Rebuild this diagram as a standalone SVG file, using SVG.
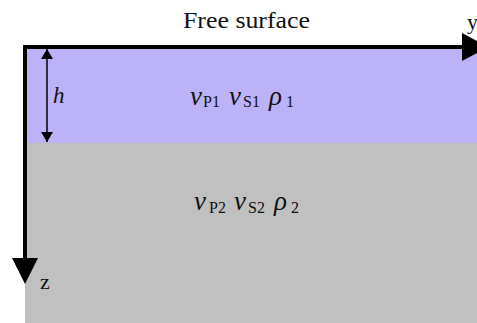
<svg xmlns="http://www.w3.org/2000/svg" width="477" height="323" viewBox="0 0 477 323">
<defs>
<marker id="ah" viewBox="0 0 10 12" refX="10" refY="6" markerWidth="10" markerHeight="12" markerUnits="userSpaceOnUse" orient="auto-start-reverse">
<path d="M0,0 L10,6 L0,12 Z" fill="#000"/>
</marker>
</defs>
<rect width="477" height="323" fill="#fff"/>
<g id="layer1">
<rect x="25" y="47" width="452" height="96" fill="#BCB2F8"/>
<text font-family="Liberation Serif" font-size="27" fill="#111" y="105"><tspan font-style="italic" x="190">v</tspan><tspan font-size="16" x="203" dy="2">P1</tspan><tspan font-style="italic" x="229" dy="-2">v</tspan><tspan font-size="16" x="243" dy="2">S1</tspan><tspan font-style="italic" x="269" dy="-2">ρ</tspan><tspan font-size="16" x="286" dy="2">1</tspan></text>
</g>
<g id="layer2">
<rect x="25" y="143" width="452" height="180" fill="#C0C0C0"/>
<text font-family="Liberation Serif" font-size="27" fill="#111" y="210"><tspan font-style="italic" x="194">v</tspan><tspan font-size="16" x="209" dy="3">P2</tspan><tspan font-style="italic" x="234" dy="-3">v</tspan><tspan font-size="16" x="248" dy="3">S2</tspan><tspan font-style="italic" x="274" dy="-3">ρ</tspan><tspan font-size="16" x="291" dy="3">2</tspan></text>
</g>
<g id="labels">
<text font-family="Liberation Serif" fill="#111" x="183" y="28" font-size="24" textLength="127" lengthAdjust="spacingAndGlyphs">Free surface</text>
<text font-family="Liberation Serif" fill="#111" x="467" y="29" font-size="22">y</text>
<text font-family="Liberation Serif" fill="#111" x="40" y="289" font-size="22">z</text>
<text font-family="Liberation Serif" fill="#111" font-style="italic" x="53" y="103" font-size="23">h</text>
</g>
<g id="connectors">
<path d="M23,47 H463" stroke="#000" stroke-width="4" fill="none"/>
<polygon points="462,33 488,47 462,61" fill="#000"/>
<path d="M25,45 V259" stroke="#000" stroke-width="4" fill="none"/>
<polygon points="12,258 38,258 25,284" fill="#000"/>
<path d="M47,49 V142" stroke="#000" stroke-width="1.5" fill="none" marker-start="url(#ah)" marker-end="url(#ah)"/>
</g>
</svg>
